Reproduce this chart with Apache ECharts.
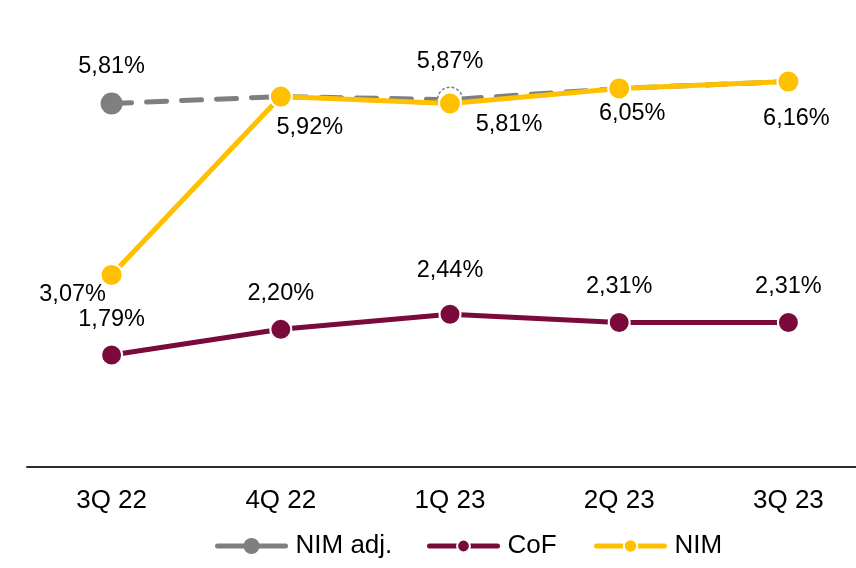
<!DOCTYPE html>
<html>
<head>
<meta charset="utf-8">
<script src="https://cdn.jsdelivr.net/npm/echarts@6/dist/echarts.min.js"></script>
<style>
  html, body { margin: 0; padding: 0; background: #fff; }
  #chart { width: 856px; height: 568px; }
</style>
</head>
<body>
<div id="chart"></div>
<script>
// Quarterly margins, in percent
const quarters = ['3Q 22', '4Q 22', '1Q 23', '2Q 23', '3Q 23'];
const nimAdj = [5.81, 5.92, 5.87, 6.05, 6.16];
const cof = [1.79, 2.20, 2.44, 2.31, 2.31];
const nim = [3.07, 5.92, 5.81, 6.05, 6.16];

// Presentation settings
const GREY = '#7f7f7f';
const MAROON = '#7b0a3c';
const GOLD = '#ffc000';
const FONT = 'Liberation Sans, Arial, sans-serif';

// label centre offsets relative to each point, in pixels
const nimLabelOffsets = [[-39, 20], [29, 31], [59, 21], [13, 25], [8, 37]];
const cofLabelOffsets = [[0, -35], [0, -36], [0, -44], [0, -36], [0, -36]];
const nimAdjLabelOffsets = [[0, -37], null, [0, -38], null, null];

const fmt = v => v.toFixed(2).replace('.', ',') + '%';

const labelBase = {
  show: true,
  position: 'inside',
  fontFamily: FONT,
  fontSize: 23.5,
  color: '#000',
  formatter: p => fmt(p.value)
};

function withLabels(values, offsets) {
  return values.map((v, i) => {
    const off = offsets[i];
    return off
      ? { value: v, label: Object.assign({}, labelBase, { offset: off }) }
      : { value: v, label: { show: false } };
  });
}

// NIM adj. points: the first is a solid grey dot; the 1Q 23 point peeks out as a dashed ring
const nimAdjData = withLabels(nimAdj, nimAdjLabelOffsets).map((d, i) => {
  if (i === 0) {
    d.symbolSize = 22;
    d.itemStyle = { color: GREY, borderWidth: 0 };
  } else if (i === 2) {
    d.symbolSize = 25;
    d.itemStyle = { color: '#fff', borderColor: GREY, borderWidth: 1.5, borderType: [3, 2] };
  } else {
    d.symbolSize = 14;
    d.itemStyle = { color: GREY, borderWidth: 0 };
  }
  return d;
});

// one legend block per series so each icon can have its own dot size
function legendBlock(name, left, itemHeight) {
  return {
    data: [name],
    left: left,
    top: 549 - 16,
    height: 32,
    orient: 'horizontal',
    padding: 0,
    itemWidth: 68,
    itemHeight: itemHeight,
    selectedMode: false,
    lineStyle: { width: 5, type: 'solid', cap: 'round' },
    textStyle: { fontFamily: FONT, fontSize: 26, color: '#000', padding: [0, 0, 0, 5] }
  };
}

const chart = echarts.init(document.getElementById('chart'), null, { renderer: 'canvas' });

chart.setOption({
  animation: false,
  backgroundColor: '#fff',
  textStyle: { fontFamily: FONT },
  grid: {
    left: 27, top: 29, width: 846, height: 438,
    containLabel: false,
    outerBoundsMode: 'none'
  },
  xAxis: {
    type: 'category',
    data: quarters,
    boundaryGap: true,
    axisLine: { show: true, lineStyle: { color: '#2b2b2b', width: 2 } },
    axisTick: { show: false },
    axisLabel: { fontFamily: FONT, fontSize: 26, color: '#000', margin: 21 },
    splitLine: { show: false }
  },
  yAxis: {
    type: 'value',
    min: 0,
    max: 7,
    show: false,
    splitLine: { show: false }
  },
  legend: [
    legendBlock('NIM adj.', 215, 20),
    legendBlock('CoF', 427, 16),
    legendBlock('NIM', 594, 17)
  ],
  series: [
    {
      name: 'NIM adj.',
      type: 'line',
      data: nimAdjData,
      z: 2,
      symbol: 'circle',
      lineStyle: { color: GREY, width: 5, type: [20, 15], cap: 'round' },
      itemStyle: { color: GREY },
      emphasis: { disabled: true }
    },
    {
      name: 'CoF',
      type: 'line',
      data: withLabels(cof, cofLabelOffsets),
      z: 3,
      symbol: 'circle',
      symbolSize: 21,
      lineStyle: { color: MAROON, width: 5 },
      itemStyle: { color: MAROON, borderColor: '#fff', borderWidth: 2 },
      emphasis: { disabled: true }
    },
    {
      name: 'NIM',
      type: 'line',
      data: withLabels(nim, nimLabelOffsets),
      z: 4,
      symbol: 'circle',
      symbolSize: 22,
      lineStyle: { color: GOLD, width: 5 },
      itemStyle: { color: GOLD, borderColor: '#fff', borderWidth: 2 },
      emphasis: { disabled: true }
    }
  ]
});
</script>
</body>
</html>
